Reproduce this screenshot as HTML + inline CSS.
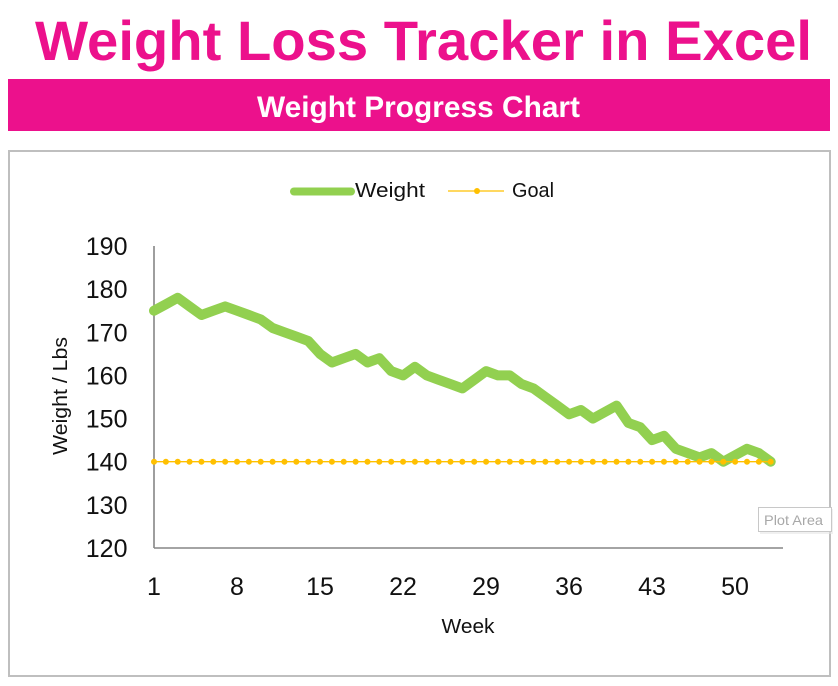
<!DOCTYPE html>
<html>
<head>
<meta charset="utf-8">
<style>
  html, body { margin: 0; padding: 0; background: #ffffff; }
  body { width: 838px; height: 686px; overflow: hidden; }
  svg { display: block; }
  text { font-family: "Liberation Sans", Arial, sans-serif; }
</style>
</head>
<body>
<svg width="838" height="686" viewBox="0 0 838 686" xmlns="http://www.w3.org/2000/svg">
  <rect x="0" y="0" width="838" height="686" fill="#ffffff"/>

  <text x="423.5" y="60" font-size="56" font-weight="bold" fill="#EC118C" text-anchor="middle" textLength="777" lengthAdjust="spacingAndGlyphs">Weight Loss Tracker in Excel</text>

  <rect x="8" y="79" width="822" height="52" fill="#EC118C"/>
  <text x="418.5" y="117" font-size="30" font-weight="bold" fill="#ffffff" text-anchor="middle" textLength="323" lengthAdjust="spacingAndGlyphs">Weight Progress Chart</text>

  <rect x="9" y="151" width="821" height="525" fill="#ffffff" stroke="#bfbfbf" stroke-width="2"/>

  <line x1="294" y1="191.5" x2="351" y2="191.5" stroke="#92D050" stroke-width="8" stroke-linecap="round"/>
  <text x="355" y="197" font-size="20" fill="#111" textLength="70" lengthAdjust="spacingAndGlyphs">Weight</text>
  <line x1="448" y1="191" x2="504" y2="191" stroke="#FFC000" stroke-width="1.3"/>
  <circle cx="477" cy="191" r="3" fill="#FFC000"/>
  <text x="512" y="197" font-size="20" fill="#111" textLength="42" lengthAdjust="spacingAndGlyphs">Goal</text>

  <g font-size="25" fill="#111" text-anchor="end">
    <text x="127.5" y="255">190</text>
    <text x="127.5" y="298.1">180</text>
    <text x="127.5" y="341.3">170</text>
    <text x="127.5" y="384.4">160</text>
    <text x="127.5" y="427.6">150</text>
    <text x="127.5" y="470.7">140</text>
    <text x="127.5" y="513.9">130</text>
    <text x="127.5" y="557">120</text>
  </g>

  <line x1="154" y1="246" x2="154" y2="548" stroke="#868686" stroke-width="1.6"/>
  <line x1="154" y1="548" x2="783" y2="548" stroke="#868686" stroke-width="1.6"/>

  <g font-size="25" fill="#111" text-anchor="middle">
    <text x="154" y="595">1</text>
    <text x="237" y="595">8</text>
    <text x="320" y="595">15</text>
    <text x="403" y="595">22</text>
    <text x="486" y="595">29</text>
    <text x="569" y="595">36</text>
    <text x="652" y="595">43</text>
    <text x="735" y="595">50</text>
  </g>

  <text x="468" y="633" font-size="20" fill="#111" text-anchor="middle" textLength="53" lengthAdjust="spacingAndGlyphs">Week</text>
  <text x="0" y="0" font-size="20" fill="#111" text-anchor="middle" textLength="118" lengthAdjust="spacingAndGlyphs" transform="translate(67,396) rotate(-90)">Weight / Lbs</text>

  <polyline fill="none" stroke="#92D050" stroke-width="10" stroke-linejoin="round" stroke-linecap="round"
    points="154,310.7 165.86,304.3 177.72,297.8 189.58,306.4 201.44,315.0 213.3,310.7 225.16,306.4 237.02,310.7 248.88,315.0 260.74,319.4 272.6,328.0 284.46,332.3 296.32,336.6 308.18,340.9 320.04,353.9 331.9,362.5 343.76,358.2 355.62,353.9 367.48,362.5 379.34,358.2 391.2,371.1 403.06,375.4 414.92,366.8 426.78,375.4 438.64,379.8 450.5,384.1 462.36,388.4 474.22,379.8 486.08,371.1 497.94,375.4 509.8,375.4 521.66,384.1 533.52,388.4 545.38,397.0 557.24,405.6 569.1,414.3 580.96,410.0 592.82,418.6 604.68,412.1 616.54,405.6 628.4,422.9 640.26,427.2 652.12,440.1 663.98,435.8 675.84,448.8 687.7,453.1 699.56,457.4 711.42,453.1 723.28,461.7 735.14,455.2 747,448.8 758.86,453.1 770.72,461.7"/>

  <line x1="154" y1="461.7" x2="770.72" y2="461.7" stroke="#FFC000" stroke-width="1.3"/>
  <line x1="154" y1="461.7" x2="771.2" y2="461.7" stroke="#FFC000" stroke-width="6" stroke-linecap="round" stroke-dasharray="0 11.86"/>

  <rect x="760" y="509" width="73" height="25" fill="#e6e6e6" opacity="0.6"/>
  <rect x="758.5" y="507.5" width="73" height="24" fill="#ffffff" stroke="#c8c8c8" stroke-width="1"/>
  <text x="764" y="525" font-size="14" fill="#a8a8a8" textLength="59" lengthAdjust="spacingAndGlyphs">Plot Area</text>
</svg>
</body>
</html>
